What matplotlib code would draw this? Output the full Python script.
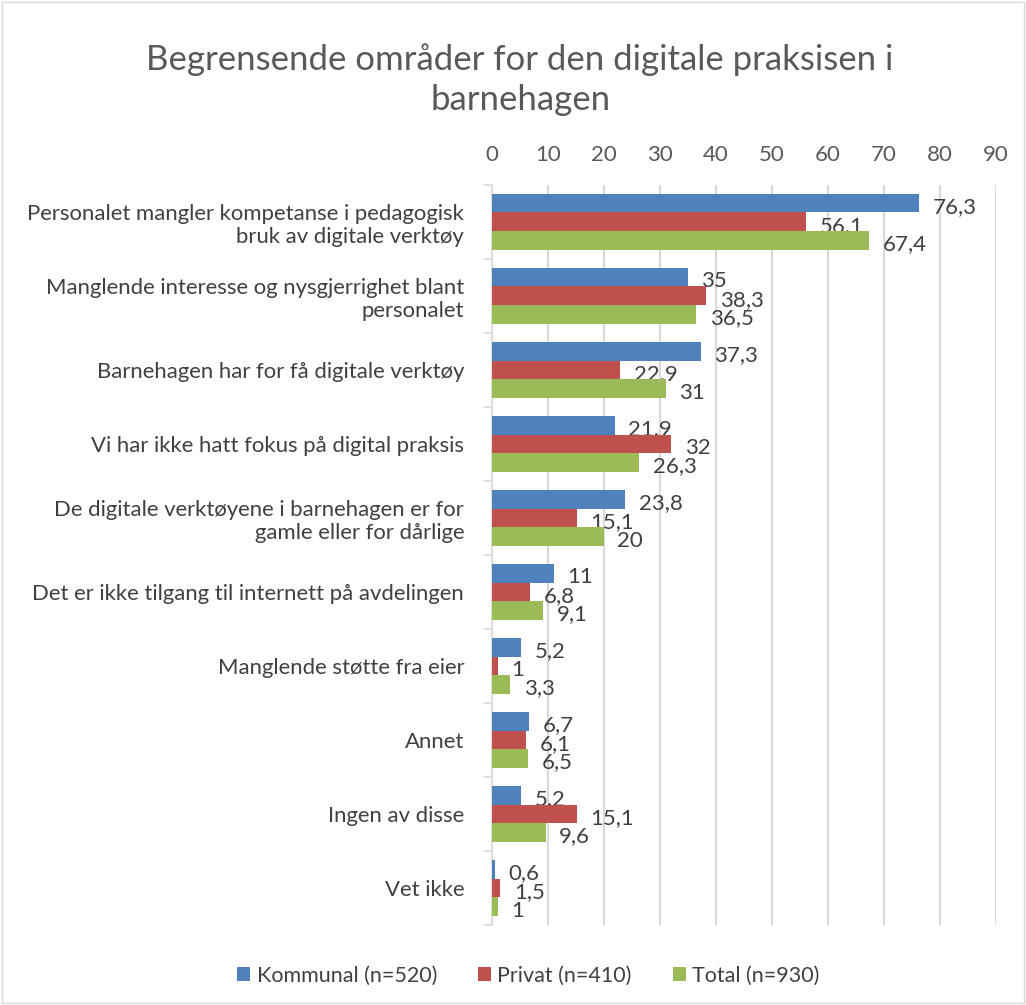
import matplotlib.pyplot as plt
import numpy as np
from matplotlib.patches import Rectangle

plt.rcParams['font.family'] = ['Lato', 'DejaVu Sans']

# data
kategorier = [
    "Personalet mangler kompetanse i pedagogisk\nbruk av digitale verktøy",
    "Manglende interesse og nysgjerrighet blant\npersonalet",
    "Barnehagen har for få digitale verktøy",
    "Vi har ikke hatt fokus på digital praksis",
    "De digitale verktøyene i barnehagen er for\ngamle eller for dårlige",
    "Det er ikke tilgang til internett på avdelingen",
    "Manglende støtte fra eier",
    "Annet",
    "Ingen av disse",
    "Vet ikke",
]
kommunal = [76.3, 35, 37.3, 21.9, 23.8, 11, 5.2, 6.7, 5.2, 0.6]
privat = [56.1, 38.3, 22.9, 32, 15.1, 6.8, 1, 6.1, 15.1, 1.5]
total = [67.4, 36.5, 31, 26.3, 20, 9.1, 3.3, 6.5, 9.6, 1]

serier = [
    ("Kommunal (n=520)", kommunal, "#4f81bd"),
    ("Privat (n=410)", privat, "#c0504d"),
    ("Total (n=930)", total, "#9bbb59"),
]

fig = plt.figure(figsize=(10.26, 10.05), dpi=100)
ax = fig.add_axes([0.4795, 0.0796, 0.4913, 0.7364])

# ramme rundt diagrammet
fig.patches.append(Rectangle((0.002, 0.002), 0.996, 0.996, transform=fig.transFigure,
                             fill=False, edgecolor="#d9d9d9", linewidth=1))

y = np.arange(len(kategorier))
h = 0.255
for i, (navn, verdier, farge) in enumerate(serier):
    pos = y + (i - 1) * h
    ax.barh(pos, verdier, height=h, color=farge, label=navn, zorder=3)
    for p, v in zip(pos, verdier):
        txt = f"{v:g}".replace(".", ",")
        ax.text(v + 2.4, p + 0.05, txt, va="center", ha="left", fontsize=16, color="#404040")

ax.set_xlim(0, 90)
ax.set_ylim(len(kategorier) - 0.5, -0.5)
ax.set_xticks(range(0, 91, 10))
ax.xaxis.tick_top()
ax.tick_params(axis="x", length=0, labelsize=16, labelcolor="#595959", pad=14)
ax.set_yticks(y)
ax.set_yticklabels(kategorier, fontsize=15.9, color="#404040")
ax.tick_params(axis="y", length=0, pad=20)
ax.set_yticks(np.arange(-0.5, len(kategorier), 1), minor=True)
ax.tick_params(axis="y", which="minor", length=6, color="#d9d9d9", width=1.2)
ax.grid(axis="x", color="#d9d9d9", linewidth=1.5, zorder=0)
for s in ["top", "right", "bottom"]:
    ax.spines[s].set_visible(False)
ax.spines["left"].set_color("#d9d9d9")
ax.spines["left"].set_linewidth(1.2)

fig.text(0.507, 0.921, "Begrensende områder for den digitale praksisen i\nbarnehagen",
         ha="center", va="center", fontsize=25, color="#595959", linespacing=1.3)

fig.legend(loc="center", bbox_to_anchor=(0.515, 0.029), ncol=3, frameon=False,
           fontsize=15.5, handlelength=0.6, handleheight=0.6, columnspacing=1.9,
           handletextpad=0.3, labelcolor="#404040")

fig.savefig("out.png", dpi=100)
